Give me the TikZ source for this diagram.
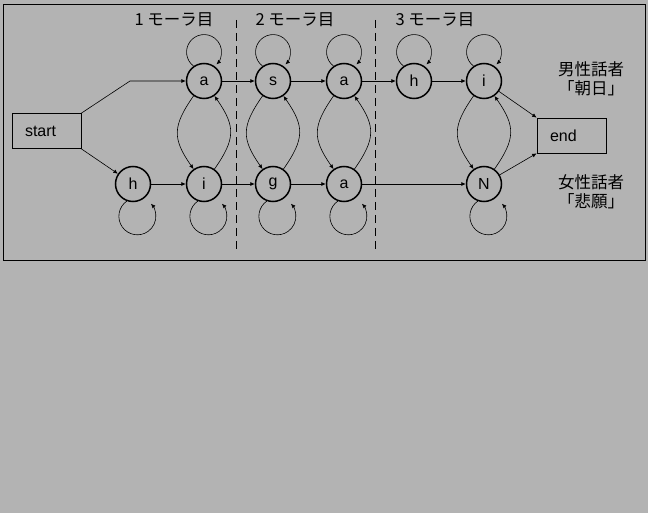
\documentclass[tikz,border=0pt]{standalone}
\usepackage{fontspec}
\setmainfont{Liberation Sans}
\newfontfamily\jpfont{Noto Sans CJK JP}
\usetikzlibrary{arrows.meta,positioning}
\definecolor{bggray}{HTML}{B3B3B3}

\begin{document}
\begin{tikzpicture}[x=1pt,y=-1pt,
				state/.style={draw,circle,line width=1.5pt,minimum size=35pt,inner sep=0pt,font=\fontsize{16}{18}\selectfont},
				termbox/.style={draw,rectangle,line width=0.7pt,text width=43pt,inner xsep=13pt,align=left,minimum height=35pt,font=\fontsize{16}{18}\selectfont},
				trans/.style={-{Latex[length=4.5pt,width=4pt]},line width=0.6pt},
				jplabel/.style={font=\jpfont\fontsize{16.5}{19.5}\selectfont,align=center}
				]
				
				% Hintergrund und Rahmen
				\fill[bggray] (0,0) rectangle (648,513);
				\useasboundingbox (0,0) rectangle (648,513);
				\draw[line width=0.8pt] (3,4) rectangle (645,260);
				
				% Moren-Grenzen
				\draw[dash pattern=on 8pt off 5pt,line width=0.6pt] (236,20) -- (236,250);
				\draw[dash pattern=on 8pt off 5pt,line width=0.6pt] (375,20) -- (375,250);
				\node[jplabel] (mora1) at (174,20) {1 モーラ目};
				\node[jplabel] (mora2) at (295,20) {2 モーラ目};
				\node[jplabel] (mora3) at (435,20) {3 モーラ目};
				
				% Start und Ende
				\node[termbox] (start) at (46.5,131) {start};
				\node[termbox] (end) at (571.5,135.5) {end};
				\coordinate (knick) at (130,81);
				
				% Obere Reihe (asahi)
				\node[state] (a1) at (204,81) {a};
				\node[state] (s2) at (273,81) {s};
				\node[state] (a3) at (344,81) {a};
				\node[state] (h4) at (414,81) {h};
				\node[state] (i5) at (484,81) {i};
				
				% Untere Reihe (higaN)
				\node[state] (h0) at (133,184) {h};
				\node[state] (i1) at (204,184) {i};
				\node[state] (g2) at (273,184) {g};
				\node[state] (b3) at (344,184) {a};
				\node[state] (n5) at (484,184) {N};
				
				% Sprecher
				\node[jplabel] (male) at (591,79) {男性話者\\「朝日」};
				\node[jplabel] (female) at (591,192) {女性話者\\「悲願」};
				
				% Uebergaenge
				\draw[trans] (start.north east) -- (knick) -- (a1);
				\draw[trans] (start.south east) -- (h0);
				\draw[trans] (a1) -- (s2);
				\draw[trans] (s2) -- (a3);
				\draw[trans] (a3) -- (h4);
				\draw[trans] (h4) -- (i5);
				\draw[trans] (h0) -- (i1);
				\draw[trans] (i1) -- (g2);
				\draw[trans] (g2) -- (b3);
				\draw[trans] (b3) -- (n5);
				\draw[trans] (i5) -- (end.north west);
				\draw[trans] (n5) -- (end.south west);
				
				% Schleifen (Radius mit Einheit, Winkel wie auf dem Blatt)
				\foreach \s in {a1,s2,a3,h4,i5}
				\draw[trans] (\s.125) arc[start angle=233,end angle=-45,radius=17.5pt];
				\foreach \s in {h0,i1,g2,b3,n5}
				\draw[trans] (\s.250) arc[start angle=125,end angle=403,radius=18.5pt];
				
				% Wechsel oben/unten
				\foreach \t/\b in {a1/i1,s2/g2,a3/b3,i5/n5}{
					\draw (\t) edge[trans,out=235,in=125,looseness=1.3] (\b);
					\draw (\b) edge[trans,out=55,in=305,looseness=1.3] (\t);
				}
				
			\end{tikzpicture}
\end{document}
